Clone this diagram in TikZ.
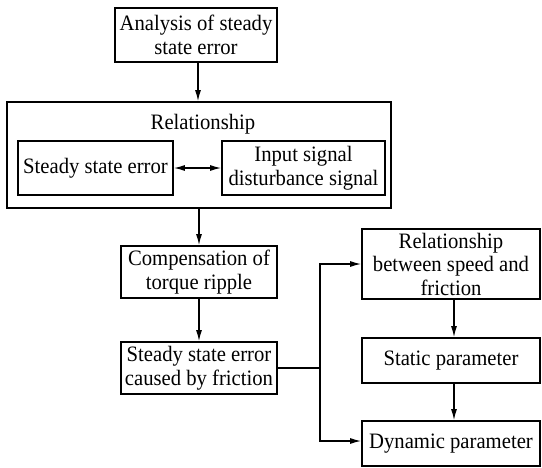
\documentclass[tikz,border=0pt]{standalone}
\usepackage{fontspec}
\setmainfont{Liberation Serif}
\newfontfamily\tnr[FakeStretch=0.94]{Liberation Serif}
\usetikzlibrary{arrows.meta}
\begin{document}
\begin{tikzpicture}[x=1pt,y=-1pt,
  txt/.style={font=\tnr\fontsize{22}{23.5}\selectfont},
  box/.style={txt,draw,line width=1.8pt,inner sep=0pt,align=center},
  conn/.style={line width=1.2pt,-{Latex[length=11pt,width=6pt]}},
  plain/.style={line width=1.2pt}]
\useasboundingbox (0,0) rectangle (542,467);
\node[box,minimum width=162,minimum height=54] (top) at (196,35) {Analysis of steady\\state error};
\node[box,minimum width=384,minimum height=106] (big) at (199,155) {};
\node[txt,inner sep=0pt] (rlab) at (203,124) {Relationship};
\node[box,minimum width=155,minimum height=54] (sl) at (95.5,168) {Steady state error};
\node[box,minimum width=163,minimum height=54] (sr) at (303.5,168) {Input signal\\disturbance signal};
\node[box,minimum width=156,minimum height=52] (comp) at (199,272) {Compensation of\\torque ripple};
\node[box,minimum width=156,minimum height=52] (sse) at (199,368) {Steady state error\\caused by friction};
\node[box,minimum width=178,minimum height=70] (rel) at (451,264) {Relationship\\between speed and\\friction};
\node[box,minimum width=178,minimum height=45] (stat) at (451,360.5) {Static parameter};
\node[box,minimum width=178,minimum height=45] (dyn) at (451,443.5) {Dynamic parameter};
\coordinate (j) at (320,368);
\draw[conn] (top.south -| 198,0) -- (big.north -| 198,0);
\draw[line width=1.2pt,{Latex[length=11pt,width=6pt]}-{Latex[length=11pt,width=6pt]}] (sl.east) -- (sr.west);
\draw[conn] (big.south -| 199,0) -- (comp.north);
\draw[conn] (comp.south) -- (sse.north);
\draw[plain] (sse.east) -- (j);
\draw[conn] (j) |- (rel.west);
\draw[conn] (j) |- ([yshift=2.5pt]dyn.west);
\draw[conn] (rel.south -| 454,0) -- (stat.north -| 454,0);
\draw[conn] (stat.south -| 454,0) -- (dyn.north -| 454,0);
\end{tikzpicture}
\end{document}
